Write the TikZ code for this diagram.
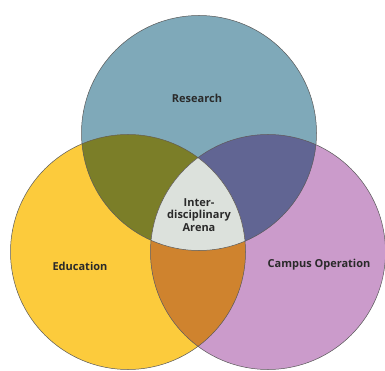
\documentclass[tikz,border=0pt]{standalone}
\usepackage{fontspec}
\setmainfont{Open Sans}
\usetikzlibrary{positioning}

\definecolor{resblue}{HTML}{7FA9B9}
\definecolor{eduyellow}{HTML}{FCCB3C}
\definecolor{campink}{HTML}{CB9BCB}
\definecolor{resedu}{HTML}{7B7E28}
\definecolor{rescam}{HTML}{616593}
\definecolor{educam}{HTML}{CF832E}
\definecolor{arena}{HTML}{DCE1DC}
\definecolor{labeltext}{HTML}{2A2A2A}

\begin{document}
\begin{tikzpicture}[
      x=1pt, y=-1pt,
      ring/.style={draw=black!65, line width=0.5pt},
      lbl/.style={font=\bfseries\fontsize{11}{12.5}\selectfont, text=labeltext, align=center, inner sep=0pt},
    ]
    \useasboundingbox[fill=white] (0,0) rectangle (385,371);
    \def\rad{117.5pt}
    \coordinate (res) at (199,133);
    \coordinate (edu) at (128,252);
    \coordinate (cam) at (268,252);

    % circles
    \fill[resblue] (res) circle (\rad);
    \fill[eduyellow] (edu) circle (\rad);
    \fill[campink] (cam) circle (\rad);

    % pairwise overlaps
    \begin{scope}
      \clip (res) circle (\rad);
      \fill[resedu] (edu) circle (\rad);
      \fill[rescam] (cam) circle (\rad);
    \end{scope}
    \begin{scope}
      \clip (edu) circle (\rad);
      \fill[educam] (cam) circle (\rad);
    \end{scope}

    % centre
    \begin{scope}
      \clip (res) circle (\rad);
      \clip (edu) circle (\rad);
      \fill[arena] (cam) circle (\rad);
    \end{scope}

    \draw[ring] (res) circle (\rad);
    \draw[ring] (edu) circle (\rad);
    \draw[ring] (cam) circle (\rad);

    \node[lbl] (research) at (197,98) {Research};
    \node[lbl] (education) at (80,266) {Education};
    \node[lbl] (campus) at (319,265) {Campus Operation};
    \node[lbl] (inter) at (199,215) {Inter-\\disciplinary\\Arena};
  \end{tikzpicture}
\end{document}
